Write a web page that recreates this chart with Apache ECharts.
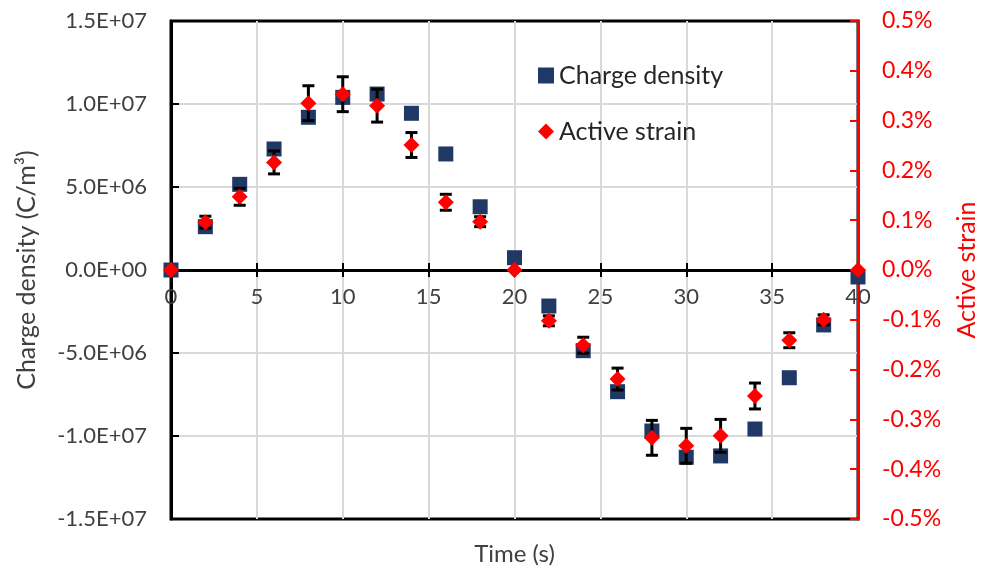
<!DOCTYPE html>
<html>
<head>
<meta charset="utf-8">
<script src="https://cdn.jsdelivr.net/npm/echarts@6/dist/echarts.min.js"></script>
<style>
  html, body { margin: 0; padding: 0; background: #fff; }
  #chart { width: 985px; height: 574px; }
</style>
</head>
<body>
<div id="chart"></div>
<script>
// time (s)
var times = [0, 2, 4, 6, 8, 10, 12, 14, 16, 18, 20, 22, 24, 26, 28, 30, 32, 34, 36, 38, 40];
// charge density (C/m3)
var charge = [0, 2.61e6, 5.16e6, 7.29e6, 9.2e6, 1.04e7, 1.06e7, 9.44e6, 6.99e6, 3.81e6, 0.74e6,
  -2.17e6, -4.86e6, -7.33e6, -9.7e6, -1.128e7, -1.12e7, -9.58e6, -6.49e6, -3.31e6, -0.42e6];
// active strain (%)
var strain = [0, 0.096, 0.147, 0.216, 0.335, 0.353, 0.33, 0.251, 0.136, 0.097, 0,
  -0.102, -0.151, -0.219, -0.337, -0.353, -0.333, -0.253, -0.141, -0.1, 0];
// error of active strain (%)
var strainErr = [0, 0.012, 0.017, 0.023, 0.035, 0.035, 0.033, 0.025, 0.016, 0.01, 0,
  0.01, 0.016, 0.022, 0.035, 0.035, 0.033, 0.026, 0.015, 0.01, 0];

var FONT = "Lato";
var GRID_TOP = 21, GRID_BOTTOM = 55;
// both y axes are symmetric around zero, so the time axis sits half way down the plot
var zeroOffset = (574 - GRID_TOP - GRID_BOTTOM) / 2;

var chargeData = [], strainData = [], errData = [];
for (var i = 0; i < times.length; i++) {
  chargeData.push([times[i], charge[i]]);
  strainData.push([times[i], strain[i]]);
  if (strainErr[i] > 0) {
    errData.push([times[i], strain[i] - strainErr[i], strain[i] + strainErr[i]]);
  }
}

function sci(v) {
  var s = Math.abs(v).toExponential(1).split("e");
  var exp = parseInt(s[1], 10);
  var e = (exp < 0 ? "-" : "+") + (Math.abs(exp) < 10 ? "0" : "") + Math.abs(exp);
  return (v < 0 ? "-" : "") + s[0] + "E" + e;
}

var myChart = echarts.init(document.getElementById("chart"));
var option = {
  animation: false,
  textStyle: { fontFamily: FONT },
  grid: {
    left: 171, right: 127, top: GRID_TOP, bottom: GRID_BOTTOM,
    containLabel: false, outerBoundsMode: "none",
    show: true, borderColor: "#000", borderWidth: 3
  },
  legend: {
    orient: "vertical",
    left: 533,
    top: 58,
    itemGap: 31,
    itemWidth: 16,
    itemHeight: 16,
    textStyle: { fontFamily: FONT, fontSize: 25, color: "#262626" },
    data: [
      { name: "Charge density", icon: "rect" },
      { name: "Active strain", icon: "diamond" }
    ]
  },
  xAxis: [
    {
      type: "value",
      position: "bottom",
      offset: -zeroOffset,
      min: 0,
      max: 40,
      interval: 5,
      name: "Time (s)",
      nameLocation: "middle",
      nameGap: 272,
      nameTextStyle: { fontFamily: FONT, fontSize: 24, color: "#404040" },
      axisLine: { onZero: false, lineStyle: { color: "#000", width: 3 } },
      axisTick: { show: true, inside: false, length: 7, lineStyle: { color: "#000", width: 2 } },
      axisLabel: { margin: 16, fontSize: 22, color: "#404040", fontFamily: FONT },
      splitLine: { show: true, lineStyle: { color: "#d9d9d9", width: 2 } }
    },
    {
      type: "value",
      position: "top",
      offset: -zeroOffset,
      min: 0,
      max: 40,
      interval: 5,
      axisLine: { onZero: false, lineStyle: { color: "#000", width: 3 } },
      axisTick: { show: true, inside: false, length: 7, lineStyle: { color: "#000", width: 2 } },
      axisLabel: { show: false },
      splitLine: { show: false }
    }
  ],
  yAxis: [
    {
      type: "value",
      min: -1.5e7,
      max: 1.5e7,
      interval: 5e6,
      name: "Charge density (C/m³)",
      nameLocation: "middle",
      nameGap: 132,
      nameTextStyle: { fontFamily: FONT, fontSize: 25, color: "#404040" },
      axisLine: { show: true, onZero: false, lineStyle: { color: "#000", width: 3 } },
      axisTick: { show: true, inside: true, length: 8, lineStyle: { color: "#000", width: 2 } },
      axisLabel: { margin: 24, fontSize: 22, color: "#404040", fontFamily: FONT, formatter: sci },
      splitLine: {
        show: true,
        lineStyle: { width: 2, color: ["transparent", "#d9d9d9", "#d9d9d9", "transparent", "#d9d9d9", "#d9d9d9", "transparent"] }
      }
    },
    {
      type: "value",
      position: "right",
      min: -0.5,
      max: 0.5,
      interval: 0.1,
      name: "Active strain",
      nameLocation: "middle",
      nameGap: 96,
      nameTextStyle: { fontFamily: FONT, fontSize: 25, color: "#ff0000" },
      axisLine: { show: true, onZero: false, lineStyle: { color: "#ff0000", width: 3 } },
      axisTick: { show: true, inside: true, length: 8, lineStyle: { color: "#ff0000", width: 2 } },
      axisLabel: {
        margin: 24, fontSize: 23, color: "#ff0000", fontFamily: FONT,
        formatter: function (v) { return v.toFixed(1) + "%"; }
      },
      splitLine: { show: false }
    }
  ],
  series: [
    {
      name: "Charge density",
      type: "scatter",
      xAxisIndex: 0,
      yAxisIndex: 0,
      symbol: "rect",
      symbolSize: 15,
      itemStyle: { color: "#203864", opacity: 1 },
      z: 3,
      data: chargeData
    },
    {
      name: "error",
      type: "custom",
      xAxisIndex: 0,
      yAxisIndex: 1,
      z: 4,
      silent: true,
      renderItem: function (params, api) {
        var x = api.value(0);
        var lo = api.coord([x, api.value(1)]);
        var hi = api.coord([x, api.value(2)]);
        var w = 6;
        var st = { stroke: "#000", lineWidth: 3 };
        return {
          type: "group",
          children: [
            { type: "line", shape: { x1: hi[0], y1: hi[1], x2: lo[0], y2: lo[1] }, style: st },
            { type: "line", shape: { x1: hi[0] - w, y1: hi[1], x2: hi[0] + w, y2: hi[1] }, style: st },
            { type: "line", shape: { x1: lo[0] - w, y1: lo[1], x2: lo[0] + w, y2: lo[1] }, style: st }
          ]
        };
      },
      data: errData
    },
    {
      name: "Active strain",
      type: "scatter",
      xAxisIndex: 0,
      yAxisIndex: 1,
      symbol: "diamond",
      symbolSize: 16,
      itemStyle: { color: "#ff0000", opacity: 1 },
      z: 5,
      data: strainData
    }
  ]
};
myChart.setOption(option);
</script>
</body>
</html>
